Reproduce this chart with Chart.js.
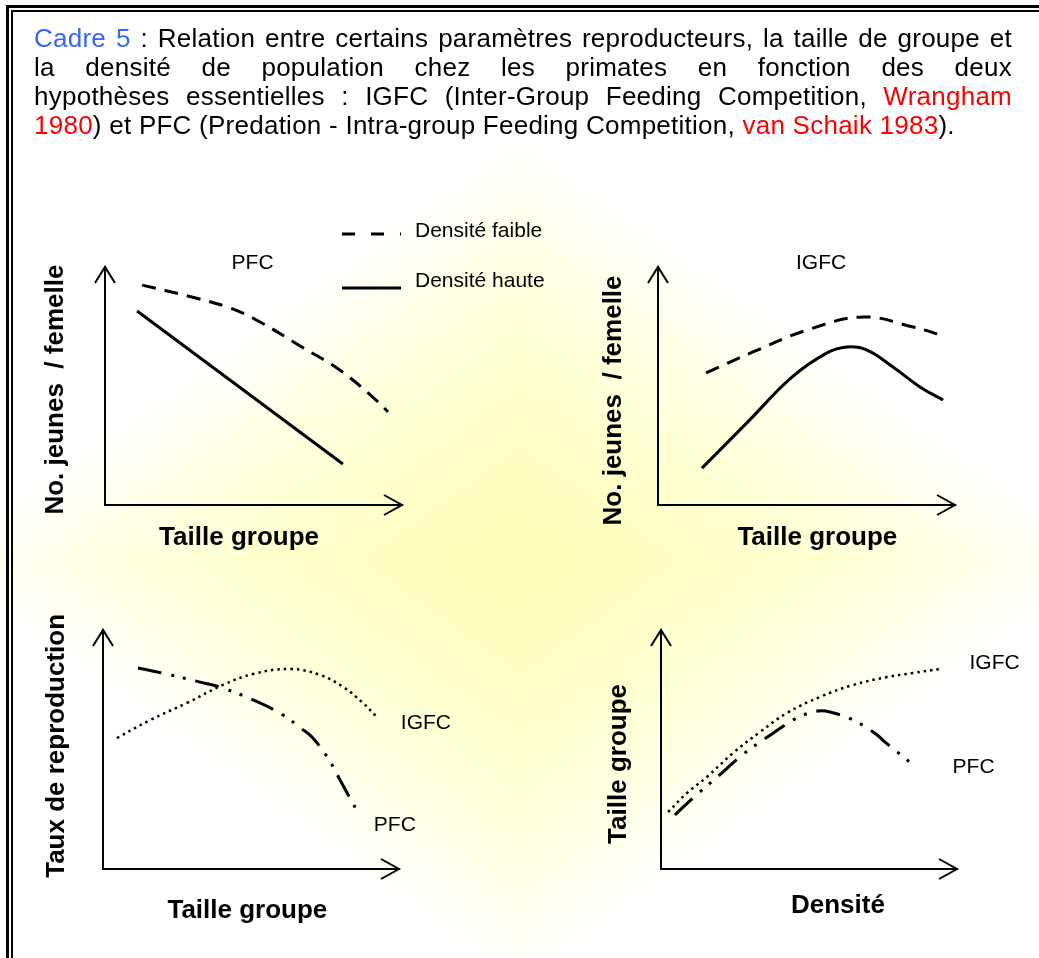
<!DOCTYPE html>
<html>
<head>
<meta charset="utf-8">
<script src="https://cdn.jsdelivr.net/npm/chart.js@4.4.1/dist/chart.umd.min.js"></script>
<style>
  html, body { margin: 0; padding: 0; background: #fff; }
  body { width: 1039px; height: 958px; position: relative; overflow: hidden;
         font-family: "Liberation Sans", Arial, sans-serif; }
  #bg, canvas.panel { position: absolute; left: 0; top: 0; }
  .rule { position: absolute; background: #000; }
  #caption { position: absolute; left: 34px; top: 24px; width: 978px;
             font-size: 26px; line-height: 29px; color: #000; letter-spacing: 0.25px; }
  #caption .just { text-align: justify; text-align-last: justify; }
  #caption .blue { color: #3366ff; }
  #caption .red { color: #ff0000; }
</style>
</head>
<body>
<canvas id="bg" width="1039" height="958"></canvas>

<div class="rule" style="left:6px;top:5px;width:1033px;height:3px"></div>
<div class="rule" style="left:11px;top:10px;width:1028px;height:2px"></div>
<div class="rule" style="left:6px;top:5px;width:3px;height:953px"></div>
<div class="rule" style="left:11px;top:10px;width:2px;height:948px"></div>

<div id="caption">
  <div class="just"><span class="blue">Cadre 5</span> : Relation entre certains paramètres reproducteurs, la taille de groupe et</div>
  <div class="just">la densité de population chez les primates en fonction des deux</div>
  <div class="just">hypothèses essentielles : IGFC (Inter-Group Feeding Competition, <span class="red">Wrangham</span></div>
  <div><span class="red">1980</span>) et PFC (Predation - Intra-group Feeding Competition, <span class="red">van Schaik 1983</span>).</div>
</div>

<canvas class="panel" id="c1" width="1039" height="958"></canvas>
<canvas class="panel" id="c2" width="1039" height="958"></canvas>
<canvas class="panel" id="c3" width="1039" height="958"></canvas>
<canvas class="panel" id="c4" width="1039" height="958"></canvas>

<script>
// ---------------- DATA (arbitrary 0-10 units) ----------------
// Panel 1 — PFC: No. jeunes / femelle vs Taille groupe
const p1LowX  = [1.25, 2.79, 4.21, 5.22, 6.57, 7.95, 9.09, 9.53];
const p1LowY  = [9.24, 8.78, 8.28, 7.69, 6.68, 5.63, 4.45, 3.91];
const p1HighX = [1.08, 8.01];
const p1HighY = [8.15, 1.72];

// Panel 2 — IGFC: No. jeunes / femelle vs Taille groupe
const p2LowX  = [1.62, 3.20, 5.02, 6.90, 8.59, 9.53];
const p2LowY  = [5.55, 6.43, 7.35, 7.90, 7.48, 7.14];
const p2HighX = [1.48, 3.00, 4.50, 5.69, 6.36, 7.04, 7.91, 8.82, 9.60];
const p2HighY = [1.55, 3.46, 5.36, 6.39, 6.64, 6.51, 5.80, 4.96, 4.41];

// Panel 3 — Taux de reproduction vs Taille groupe
const p3IgfcX = [0.47, 1.59, 2.84, 4.05, 5.07, 6.32, 7.33, 8.11, 8.78, 9.22];
const p3IgfcY = [5.48, 6.23, 6.95, 7.70, 8.16, 8.37, 8.12, 7.62, 6.95, 6.40];
const p3PfcX  = [1.18, 1.99, 3.28, 4.05, 5.30, 6.08, 6.72, 7.06, 7.60, 8.01, 8.58];
const p3PfcY  = [8.41, 8.20, 7.82, 7.57, 6.95, 6.44, 5.86, 5.52, 4.64, 3.72, 2.43];

// Panel 4 — Taille groupe vs Densité
const p4IgfcX = [0.24, 0.88, 1.55, 2.43, 3.34, 4.26, 5.37, 6.49, 7.64, 8.51, 9.43];
const p4IgfcY = [2.38, 3.18, 3.85, 4.85, 5.73, 6.53, 7.20, 7.70, 8.03, 8.20, 8.37];
const p4PfcX  = [0.47, 1.08, 2.06, 2.74, 3.75, 4.59, 5.30, 5.71, 6.49, 7.26, 7.57, 8.24, 8.55];
const p4PfcY  = [2.26, 2.97, 4.02, 4.77, 5.65, 6.32, 6.61, 6.57, 6.23, 5.65, 5.31, 4.64, 4.31];

// Series names and curve annotations (value coordinates)
const seriesLow = 'Densité faible';
const seriesHigh = 'Densité haute';
const p1Notes = [{ text: 'PFC',  x: 4.97,  y: 10.18 }];
const p2Notes = [{ text: 'IGFC', x: 5.49,  y: 10.18 }];
const p3Notes = [{ text: 'IGFC', x: 10.91, y: 6.09 }, { text: 'PFC', x: 9.86, y: 1.84 }];
const p4Notes = [{ text: 'IGFC', x: 11.27, y: 8.63 }, { text: 'PFC', x: 10.56, y: 4.24 }];

// ---------------- BACKGROUND (soft yellow glow) ----------------
(function () {
  const c = document.getElementById('bg');
  const g = c.getContext('2d');
  const w = c.width, h = c.height;
  const img = g.createImageData(w, h);
  const cx = 520, cy = 560, RX = 600, RY = 430;
  for (let y = 0; y < h; y++) {
    for (let x = 0; x < w; x++) {
      const dx = Math.abs(x - cx) / RX, dy = Math.abs(y - cy) / RY;
      let t = dx + dy;
      if (t > 1) t = 1;
      const i = (y * w + x) * 4;
      img.data[i] = 255; img.data[i + 1] = 255;
      img.data[i + 2] = Math.round(188 + 67 * Math.pow(t, 1.5));
      img.data[i + 3] = 255;
    }
  }
  g.putImageData(img, 0, 0);
})();

// ---------------- CHARTS ----------------
const FONT = '"Liberation Sans", Arial, sans-serif';
Chart.defaults.font.family = FONT;
Chart.defaults.color = '#000';

const pts = (xs, ys) => xs.map((x, i) => ({ x: x, y: ys[i] }));

const STYLE = {
  dashed:  { borderColor: '#000', borderWidth: 3, borderDash: [14, 9] },
  solid:   { borderColor: '#000', borderWidth: 3, borderDash: [] },
  dotted:  { borderColor: '#000', borderWidth: 2.5, borderDash: [2.5, 4] },
  dashDot: { borderColor: '#000', borderWidth: 3, borderDash: [24, 10, 3, 9, 3, 10] }
};
const ds = (label, xs, ys, style) => Object.assign({
  label: label, data: pts(xs, ys), showLine: true, fill: false,
  pointRadius: 0, pointHoverRadius: 0, tension: 0.4
}, style);

const axisArrows = {
  id: 'axisArrows',
  afterDraw(chart) {
    const a = chart.chartArea, ctx = chart.ctx;
    const al = v => Math.round(v - 1) + 1;
    const L = al(a.left), B = al(a.bottom), T = a.top, R = a.right;
    ctx.save();
    ctx.strokeStyle = '#000'; ctx.lineWidth = 2; ctx.setLineDash([]);
    ctx.beginPath();
    ctx.moveTo(L - 10, T + 16); ctx.lineTo(L, T); ctx.lineTo(L + 10, T + 16);
    ctx.moveTo(R - 18, B - 10); ctx.lineTo(R, B); ctx.lineTo(R - 18, B + 10);
    ctx.stroke();
    ctx.restore();
  }
};

const notesPlugin = {
  id: 'notes',
  afterDatasetsDraw(chart, args, opts) {
    const ctx = chart.ctx, sx = chart.scales.x, sy = chart.scales.y;
    ctx.save();
    ctx.fillStyle = '#000';
    ctx.font = '21px ' + FONT;
    ctx.textAlign = 'center'; ctx.textBaseline = 'middle';
    (opts.items || []).forEach(n => ctx.fillText(n.text, sx.getPixelForValue(n.x), sy.getPixelForValue(n.y)));
    ctx.restore();
  }
};

const lineLegend = {
  id: 'lineLegend',
  afterDraw(chart, args, opts) {
    if (!opts.show) return;
    const ctx = chart.ctx;
    chart.data.datasets.forEach((d, i) => {
      ctx.save();
      ctx.strokeStyle = d.borderColor; ctx.lineWidth = d.borderWidth;
      ctx.setLineDash(opts.dash[i]);
      ctx.beginPath();
      ctx.moveTo(opts.x, opts.lineY[i]); ctx.lineTo(opts.x + opts.length, opts.lineY[i]);
      ctx.stroke();
      ctx.setLineDash([]);
      ctx.fillStyle = '#000';
      ctx.font = '21px ' + FONT;
      ctx.textAlign = 'left'; ctx.textBaseline = 'middle';
      ctx.fillText(d.label, opts.textX, opts.textY[i]);
      ctx.restore();
    });
  }
};

const CW = 1039, CH = 958, TSIZE = 26, TLH = 1.2;

function panel(id, p) {
  const lh = TSIZE * TLH;
  const yPadInner = p.area.left - lh / 2 - p.yTitleAt;
  const xPadInner = p.xTitleAt - p.area.bottom - lh / 2;
  const titleFont = { family: FONT, size: TSIZE, weight: 'bold', lineHeight: TLH };
  const common = {
    type: 'linear', min: 0, max: 10,
    grid: { display: false, drawTicks: false },
    ticks: { display: false },
    border: { display: true, color: '#000', width: 2 }
  };
  return new Chart(document.getElementById(id), {
    type: 'scatter',
    data: { datasets: p.datasets },
    options: {
      responsive: false, animation: false, devicePixelRatio: 1, events: [],
      layout: { padding: {
        left: p.area.left - (lh + yPadInner),
        top: p.area.top,
        right: CW - p.area.right,
        bottom: CH - p.area.bottom - (lh + xPadInner)
      } },
      scales: {
        x: Object.assign({}, common, { position: 'bottom',
          title: { display: true, text: p.xTitle, color: '#000', font: titleFont, padding: { top: xPadInner, bottom: 0 } } }),
        y: Object.assign({}, common, { position: 'left',
          title: { display: true, text: p.yTitle, color: '#000', font: titleFont, padding: { top: 0, bottom: yPadInner } } })
      },
      plugins: {
        legend: { display: false },
        tooltip: { enabled: false },
        notes: { items: p.notes },
        lineLegend: p.legend || { show: false }
      }
    },
    plugins: [axisArrows, notesPlugin, lineLegend]
  });
}

panel('c1', {
  area: { left: 105, top: 267, right: 402, bottom: 505 },
  yTitle: 'No. jeunes  / femelle ', yTitleAt: 56,
  xTitle: 'Taille groupe    ', xTitleAt: 537.6,
  datasets: [ds(seriesLow, p1LowX, p1LowY, STYLE.dashed), ds(seriesHigh, p1HighX, p1HighY, STYLE.solid)],
  notes: p1Notes,
  legend: { show: true, x: 342, length: 59, lineY: [234, 288], textX: 415, textY: [231.5, 281], dash: [[13, 16], []] }
});

panel('c2', {
  area: { left: 658, top: 267, right: 955, bottom: 505 },
  yTitle: 'No. jeunes  / femelle    ', yTitleAt: 614,
  xTitle: '   Taille groupe', xTitleAt: 537.6,
  datasets: [ds(seriesLow, p2LowX, p2LowY, STYLE.dashed), ds(seriesHigh, p2HighX, p2HighY, STYLE.solid)],
  notes: p2Notes
});

panel('c3', {
  area: { left: 103, top: 630, right: 399, bottom: 869 },
  yTitle: ' Taux de reproduction', yTitleAt: 56.5,
  xTitle: 'Taille groupe ', xTitleAt: 910.6,
  datasets: [ds('IGFC', p3IgfcX, p3IgfcY, STYLE.dotted), ds('PFC', p3PfcX, p3PfcY, STYLE.dashDot)],
  notes: p3Notes
});

panel('c4', {
  area: { left: 661, top: 630, right: 957, bottom: 869 },
  yTitle: 'Taille groupe    ', yTitleAt: 619,
  xTitle: '        Densité', xTitleAt: 905.6,
  datasets: [ds('IGFC', p4IgfcX, p4IgfcY, STYLE.dotted), ds('PFC', p4PfcX, p4PfcY, STYLE.dashDot)],
  notes: p4Notes
});
</script>
</body>
</html>
